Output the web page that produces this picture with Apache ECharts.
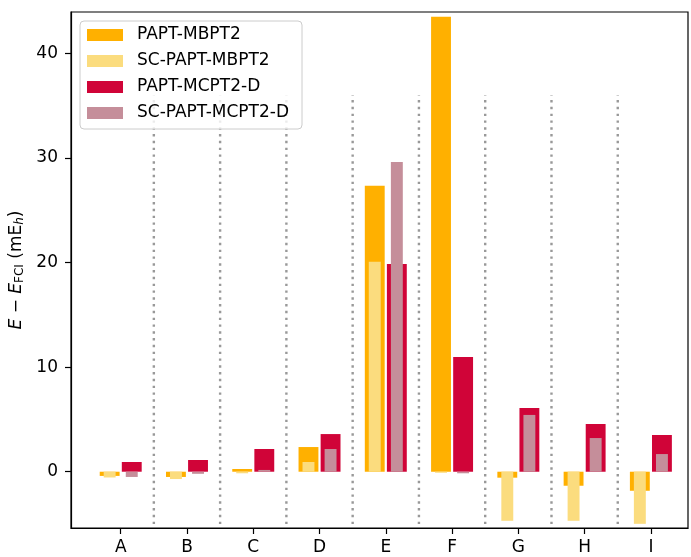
<!DOCTYPE html>
<html>
<head>
<meta charset="utf-8">
<script src="https://cdn.jsdelivr.net/npm/echarts@6/dist/echarts.min.js"></script>
<style>
  html, body { margin: 0; padding: 0; background: #fff; }
  #chart { width: 691px; height: 557px; }
</style>
</head>
<body>
<div id="chart"></div>
<script>
// Molecules / systems along the x axis
const categories = ['A', 'B', 'C', 'D', 'E', 'F', 'G', 'H', 'I'];

// Energy errors relative to FCI, in mEh
const paptMbpt2    = [-0.4, -0.5, 0.26, 2.36, 27.34, 43.5, -0.57, -1.34, -1.82];
const scPaptMbpt2  = [-0.55, -0.7, -0.15, 0.93, 20.07, -0.1, -4.69, -4.69, -4.98];
const paptMcpt2D   = [0.93, 1.12, 2.17, 3.6, 19.87, 10.96, 6.1, 4.56, 3.51];
const scPaptMcpt2D = [-0.5, -0.2, 0.17, 2.17, 29.6, -0.15, 5.43, 3.22, 1.69];

const yTickValues = [0, 10, 20, 30, 40];
const separatorTop = 36;
const separatorBottom = -5;

const FONT = 'DejaVu Sans';
const FS = 17;

function barRenderer(offset, width, color) {
  return function (params, api) {
    const x = api.value(0) + offset;
    const v = api.value(1);
    const p1 = api.coord([x - width / 2, Math.max(v, 0)]);
    const p2 = api.coord([x + width / 2, Math.min(v, 0)]);
    return {
      type: 'rect',
      shape: { x: p1[0], y: p1[1], width: p2[0] - p1[0], height: p2[1] - p1[1] },
      style: { fill: color }
    };
  };
}

function toPairs(arr) {
  return arr.map((v, i) => [i, v]);
}

function barSeries(name, values, offset, width, color, z) {
  return {
    name: name,
    type: 'custom',
    renderItem: barRenderer(offset, width, color),
    itemStyle: { color: color },
    encode: { x: 0, y: 1 },
    data: toPairs(values),
    z: z
  };
}

const colors = {
  mbpt: '#FFB000',
  scMbpt: '#FBDC7E',
  mcpt: '#D00438',
  scMcpt: '#C58E9A'
};

const separators = categories.slice(0, -1).map((_, i) => [i + 0.5]);

const chart = echarts.init(document.getElementById('chart'), null, { renderer: 'canvas' });

chart.setOption({
  animation: false,
  backgroundColor: '#fff',
  textStyle: { fontFamily: FONT },
  grid: {
    left: 71, right: 3, top: 12, bottom: 29,
    show: true, borderColor: '#000', borderWidth: 1.2, backgroundColor: 'transparent'
  },
  legend: {
    orient: 'vertical',
    left: 80, top: 21,
    padding: [5, 13, 7, 7],
    itemWidth: 36, itemHeight: 12, itemGap: 8,
    icon: 'rect',
    backgroundColor: 'rgba(255,255,255,0.8)',
    borderColor: '#cccccc', borderWidth: 1, borderRadius: 4,
    textStyle: { fontFamily: FONT, fontSize: FS, color: '#000', lineHeight: 18, padding: [0, 0, 0, 9] },
    data: ['PAPT-MBPT2', 'SC-PAPT-MBPT2', 'PAPT-MCPT2-D', 'SC-PAPT-MCPT2-D']
  },
  xAxis: {
    type: 'value',
    min: -0.75, max: 8.56,
    axisLine: { onZero: false, lineStyle: { color: '#000', width: 1.2 } },
    axisTick: { show: true, length: 6, lineStyle: { color: '#000', width: 1.2 }, customValues: categories.map((_, i) => i) },
    axisLabel: {
      customValues: categories.map((_, i) => i),
      formatter: v => categories[Math.round(v)],
      fontFamily: FONT, fontSize: FS, color: '#000', margin: 11
    },
    splitLine: { show: false }
  },
  yAxis: {
    type: 'value',
    min: -5.38, max: 43.95,
    name: '{i|E} − {i|E}{sub|FCI} (mE{isub|h})',
    nameLocation: 'middle',
    nameRotate: 90,
    nameGap: 42,
    nameTextStyle: {
      fontFamily: FONT, fontSize: FS, color: '#000',
      rich: {
        i: { fontFamily: FONT, fontSize: FS, fontStyle: 'italic', color: '#000' },
        sub: { fontFamily: FONT, fontSize: 12, color: '#000', verticalAlign: 'bottom', padding: [5, 0, 0, 0] },
        isub: { fontFamily: FONT, fontSize: 12, fontStyle: 'italic', color: '#000', verticalAlign: 'bottom', padding: [5, 0, 0, 0] }
      }
    },
    axisLine: { onZero: false, lineStyle: { color: '#000', width: 1.2 } },
    axisTick: { show: true, length: 6, lineStyle: { color: '#000', width: 1.2 }, customValues: yTickValues },
    axisLabel: {
      customValues: yTickValues,
      fontFamily: FONT, fontSize: FS, color: '#000', margin: 13
    },
    splitLine: { show: false }
  },
  series: [
    {
      name: 'separators',
      type: 'custom',
      silent: true,
      encode: { x: 0 },
      data: separators,
      renderItem: function (params, api) {
        const x = api.value(0);
        const a = api.coord([x, separatorBottom]);
        const b = api.coord([x, separatorTop]);
        return {
          type: 'line',
          shape: { x1: a[0], y1: a[1], x2: b[0], y2: b[1] },
          style: { stroke: '#999999', lineWidth: 2.4, lineDash: [2.4, 4.4] }
        };
      },
      z: 1
    },
    barSeries('PAPT-MBPT2', paptMbpt2, -1 / 6, 0.3, colors.mbpt, 2),
    barSeries('SC-PAPT-MBPT2', scPaptMbpt2, -1 / 6, 0.18, colors.scMbpt, 3),
    barSeries('PAPT-MCPT2-D', paptMcpt2D, 1 / 6, 0.3, colors.mcpt, 2),
    barSeries('SC-PAPT-MCPT2-D', scPaptMcpt2D, 1 / 6, 0.18, colors.scMcpt, 3)
  ]
});
</script>
</body>
</html>
